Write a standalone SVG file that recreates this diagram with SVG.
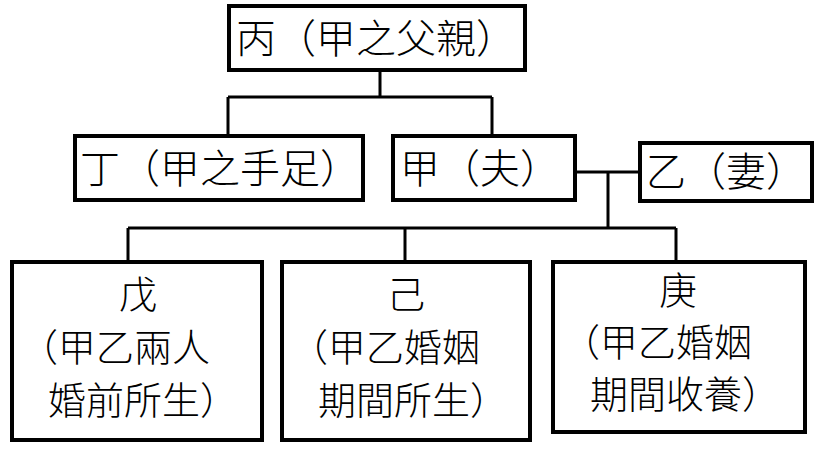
<svg xmlns="http://www.w3.org/2000/svg" width="836" height="453" viewBox="0 0 836 453">
<style>
.b{fill:#fff;stroke:#000;stroke-width:4}
.c{fill:none;stroke:#000;stroke-width:3}
text{font-family:"Noto Sans CJK TC","Noto Sans CJK SC",sans-serif;font-size:40px;font-weight:300;fill:#000}
.s{font-size:38px}
</style>
<rect width="836" height="453" fill="#fff"/>
<g id="connectors">
<path class="c" d="M380 70V97M228 97H492M228 97V136M492 97V136M575 172H640M608 172V228M128 228H676M128 228V262M405 228V262M676 228V262"/>
</g>
<g id="n1"><rect class="b" x="229" y="6" width="296" height="64"/><text x="236" y="53">丙（甲之父親）</text></g>
<g id="n2"><rect class="b" x="75" y="136" width="288" height="64"/><text x="80" y="183">丁（甲之手足）</text></g>
<g id="n3"><rect class="b" x="393" y="136" width="182" height="64"/><text x="400" y="183">甲（夫）</text></g>
<g id="n4"><rect class="b" x="640" y="143" width="172" height="58"/><text x="646" y="186">乙（妻）</text></g>
<g id="n5"><rect class="b" x="12" y="262" width="250" height="178"/><text class="s" x="119" y="308">戊</text><text class="s" x="20" y="361">（甲乙兩人</text><text class="s" x="48" y="414">婚前所生）</text></g>
<g id="n6"><rect class="b" x="282" y="262" width="248" height="178"/><text class="s" x="387" y="308">己</text><text class="s" x="290" y="361">（甲乙婚姻</text><text class="s" x="318" y="414">期間所生）</text></g>
<g id="n7"><rect class="b" x="553" y="262" width="252" height="170"/><text class="s" x="659" y="304">庚</text><text class="s" x="562" y="356">（甲乙婚姻</text><text class="s" x="590" y="408">期間收養）</text></g>
</svg>
